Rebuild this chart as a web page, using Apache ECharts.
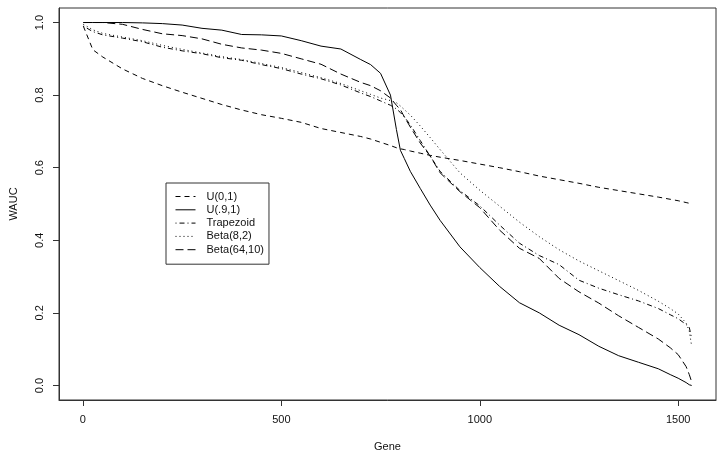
<!DOCTYPE html>
<html>
<head>
<meta charset="utf-8">
<title>WAUC</title>
<script src="https://cdn.jsdelivr.net/npm/echarts@6/dist/echarts.min.js"></script>
<style>
	html, body { margin: 0; padding: 0; background: #fff; }
	#waucEchart { width: 726px; height: 460px; }
</style>
</head>
<body>
<div id="waucEchart"></div>
<script>
var genes = [1, 25, 50, 100, 150, 200, 250, 300, 350, 400,
	450, 500, 550, 600, 650, 700, 725, 750, 775, 790,
	800, 810, 825, 850, 875, 900, 950, 1000, 1050, 1100,
	1150, 1200, 1250, 1300, 1350, 1400, 1450, 1480, 1500, 1520,
	1528, 1534];

var u01 = [0.990, 0.925, 0.905, 0.872, 0.846, 0.826, 0.808, 0.791, 0.774, 0.759,
	0.746, 0.736, 0.725, 0.708, 0.697, 0.686, 0.679, 0.670, 0.661, 0.655,
	0.652, 0.650, 0.646, 0.640, 0.634, 0.629, 0.620, 0.610, 0.600, 0.589,
	0.577, 0.567, 0.557, 0.546, 0.537, 0.528, 0.519, 0.513, 0.509, 0.504,
	0.502, 0.500];

var u91 = [1.000, 1.000, 1.000, 1.000, 0.999, 0.997, 0.993, 0.984, 0.979, 0.967,
	0.966, 0.963, 0.950, 0.935, 0.927, 0.898, 0.884, 0.860, 0.800, 0.705,
	0.648, 0.625, 0.590, 0.543, 0.497, 0.455, 0.382, 0.325, 0.273, 0.228,
	0.200, 0.166, 0.140, 0.108, 0.082, 0.064, 0.046, 0.030, 0.020, 0.008,
	0.002, 0.000];

var trap = [0.990, 0.975, 0.966, 0.957, 0.947, 0.932, 0.922, 0.914, 0.903, 0.896,
	0.884, 0.873, 0.858, 0.845, 0.828, 0.806, 0.796, 0.784, 0.772, 0.762,
	0.752, 0.740, 0.718, 0.675, 0.632, 0.590, 0.537, 0.495, 0.442, 0.392,
	0.358, 0.333, 0.290, 0.268, 0.250, 0.233, 0.212, 0.195, 0.184, 0.168,
	0.160, 0.130];

var b82 = [0.995, 0.980, 0.970, 0.960, 0.950, 0.937, 0.926, 0.916, 0.906, 0.898,
	0.887, 0.876, 0.862, 0.848, 0.832, 0.812, 0.802, 0.792, 0.785, 0.779,
	0.770, 0.760, 0.745, 0.715, 0.683, 0.650, 0.586, 0.538, 0.494, 0.450,
	0.410, 0.374, 0.343, 0.316, 0.289, 0.262, 0.232, 0.212, 0.197, 0.172,
	0.150, 0.108];

var b6410 = [1.000, 1.000, 1.000, 0.995, 0.981, 0.969, 0.964, 0.955, 0.940, 0.930,
	0.924, 0.915, 0.900, 0.885, 0.858, 0.835, 0.826, 0.812, 0.792, 0.772,
	0.760, 0.740, 0.712, 0.668, 0.632, 0.586, 0.534, 0.490, 0.428, 0.378,
	0.350, 0.295, 0.258, 0.227, 0.192, 0.160, 0.128, 0.104, 0.085, 0.052,
	0.030, 0.010];

var xTicks = [0, 500, 1000, 1500];
var yTicks = [0, 0.2, 0.4, 0.6, 0.8, 1.0];

var seriesNames = ['U(0,1)', 'U(.9,1)', 'Trapezoid', 'Beta(8,2)', 'Beta(64,10)'];
var seriesVals = [u01, u91, trap, b82, b6410];
var seriesDash = [[5, 4], 'solid', [1, 3, 5, 3], [1, 3], [8, 4]];

function pairs(vals) {
	var out = [];
	for (var i = 0; i < genes.length; i++) {
		out.push([genes[i], vals[i]]);
	}
	return out;
}

var font = 'Liberation Sans, Arial, sans-serif';
var clear = 'rgba(0,0,0,0)';
var echart = echarts.init(document.getElementById('waucEchart'));
var series = [];
for (var i = 0; i < seriesNames.length; i++) {
	series.push({
		name: seriesNames[i],
		type: 'line',
		symbol: 'none',
		showSymbol: false,
		data: pairs(seriesVals[i]),
		lineStyle: {color: '#000', width: 1, type: seriesDash[i]},
		itemStyle: {color: '#000'}
	});
}

echart.setOption({
	animation: false,
	backgroundColor: '#fff',
	textStyle: {fontFamily: font},
	grid: {
		show: true,
		left: 59,
		right: 10,
		top: 8,
		bottom: 60,
		borderColor: '#333',
		borderWidth: 1
	},
	legend: {
		data: seriesNames,
		orient: 'vertical',
		left: 166,
		top: 183,
		padding: [8, 5, 9, 9],
		itemWidth: 20,
		itemHeight: 13,
		itemGap: 2.3,
		borderColor: '#333',
		borderWidth: 1,
		itemStyle: {color: clear, borderColor: clear, borderWidth: 0},
		lineStyle: {width: 1},
		textStyle: {fontFamily: font, fontSize: 11, color: '#111', padding: [0, 0, 0, 6]}
	},
	xAxis: {
		type: 'value',
		min: -60.3,
		max: 1595.3,
		name: 'Gene',
		nameLocation: 'middle',
		nameGap: 41,
		nameTextStyle: {fontFamily: font, fontSize: 11, color: '#111'},
		splitLine: {show: false},
		axisLine: {show: true, onZero: false, lineStyle: {color: '#333'}},
		axisTick: {show: true, length: 6, customValues: xTicks, lineStyle: {color: '#333'}},
		axisLabel: {
			customValues: xTicks,
			margin: 14,
			fontFamily: font,
			fontSize: 11,
			color: '#111',
			formatter: function (v) { return String(v); }
		}
	},
	yAxis: {
		type: 'value',
		min: -0.04,
		max: 1.04,
		name: 'WAUC',
		nameLocation: 'middle',
		nameGap: 40,
		nameTextStyle: {fontFamily: font, fontSize: 11, color: '#111'},
		splitLine: {show: false},
		axisLine: {show: true, onZero: false, lineStyle: {color: '#333'}},
		axisTick: {show: true, length: 6, customValues: yTicks, lineStyle: {color: '#333'}},
		axisLabel: {
			customValues: yTicks,
			rotate: 90,
			margin: 14,
			fontFamily: font,
			fontSize: 11,
			color: '#111',
			formatter: function (v) { return v.toFixed(1); }
		}
	},
	series: series
});
</script>
</body>
</html>
